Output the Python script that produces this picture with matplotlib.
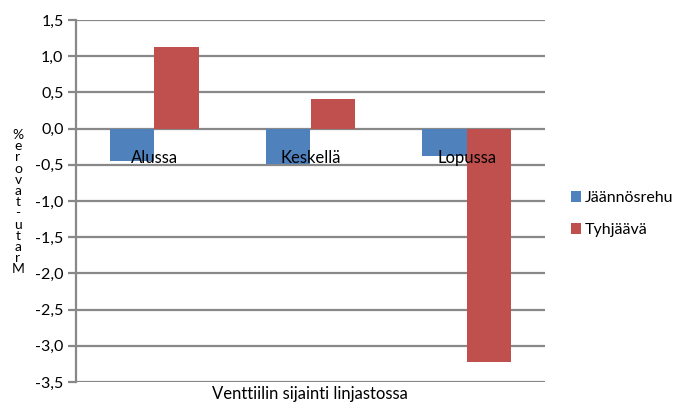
import matplotlib
matplotlib.use("Agg")
import matplotlib.pyplot as plt
import numpy as np

categories = ["Alussa", "Keskellä", "Lopussa"]
jaannosrehu = [-0.45, -0.49, -0.38]
tyhjaava = [1.13, 0.41, -3.22]
series_names = ["Jäännösrehu", "Tyhjäävä"]
yticks = [1.5, 1.0, 0.5, 0.0, -0.5, -1.0, -1.5, -2.0, -2.5, -3.0, -3.5]
ylabel_chars = ["%", "e", "r", "o", "v", "a", "t", "-", "u", "t", "a", "r", "M"]
xlabel = "Venttiilin sijainti linjastossa"

plt.rcParams['font.family'] = ['Lato', 'DejaVu Sans']
fig = plt.figure(figsize=(6.8, 4.04), dpi=100)
ax = fig.add_axes([76/680, 1 - 382/404, (545-76)/680, (382-20)/404])

x = np.arange(len(categories))
w = 1/3.5
blue = "#4F81BD"
red = "#C0504D"
ax.bar(x - w/2, jaannosrehu, width=w, color=blue, label=series_names[0], zorder=3)
ax.bar(x + w/2, tyhjaava, width=w, color=red, label=series_names[1], zorder=3)

ax.set_xlim(-0.5, len(categories) - 0.5)
ax.set_ylim(-3.5, 1.5)
ax.set_yticks(yticks)
ax.set_yticklabels([f"{v:.1f}".replace(".", ",") for v in yticks], fontsize=11.5)
grid_c = "#888888"
for v in yticks:
    ax.axhline(v, color=grid_c, lw=1.6, zorder=1)
ax.set_xticks([])
for s in ["top", "right", "bottom"]:
    ax.spines[s].set_visible(False)
ax.spines["left"].set_color(grid_c)
ax.spines["left"].set_linewidth(1.6)
ax.tick_params(axis="y", length=6, width=1.6, color=grid_c, pad=3)

for i, c in enumerate(categories):
    ax.text(i, -0.40, c, ha="center", va="center", fontsize=12, zorder=4)

fig.text(310/680, 1 - 394/404, xlabel, ha="center", va="center", fontsize=12)

# stacked vertical y label
y0 = 135
step = 11.2
for k, ch in enumerate(ylabel_chars):
    fig.text(18/680, 1 - (y0 + k*step)/404, ch, ha="center", va="center", fontsize=10)

handles, labels = ax.get_legend_handles_labels()
fig.legend(handles, labels, loc="center left", bbox_to_anchor=(561/680, 1 - 214/404),
           frameon=False, fontsize=11.5, handlelength=0.65, handleheight=0.65,
           handletextpad=0.25, labelspacing=1.15, borderaxespad=0.2)

fig.savefig("out.png", dpi=100)
